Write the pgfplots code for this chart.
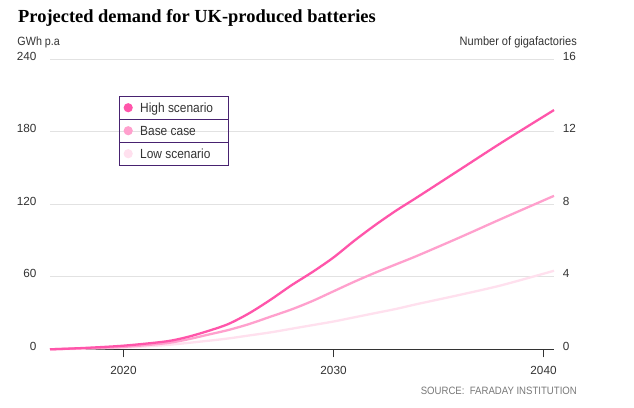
\documentclass[border=0pt]{standalone}
\usepackage{fontspec}
\setmainfont{Liberation Sans}
\newfontfamily\titlefont{Liberation Serif}
\newfontfamily\condfont[FakeStretch=0.9]{Liberation Sans}
\newfontfamily\numfont{Liberation Sans}
\usepackage{pgfplots}
\pgfplotsset{compat=1.18}
\definecolor{highc}{RGB}{255,85,170}
\definecolor{basec}{RGB}{255,160,205}
\definecolor{lowc}{RGB}{255,224,238}
\definecolor{legc}{RGB}{72,34,112}
\definecolor{gridc}{RGB}{226,226,226}
\definecolor{txtc}{RGB}{51,51,51}
\definecolor{srcc}{RGB}{120,120,120}

\pgfplotstableread{
year val
2016.5 0
2018 0.5
2020 1.5
2022 3.5
2024 7
2025 9
2026 11.5
2027 14
2028 17
2029 20
2030 23
2031 26.5
2032 30
2033 33.5
2034 37.5
2036 45
2038 53
2040.5 65
}\lowtab
\pgfplotstableread{
year val
2016.5 0
2018 0.8
2020 2
2022 5
2023 8
2024 12
2025 16
2026 21
2027 27
2028 33
2029 40
2030 48
2031 56
2032 63.5
2033 70.5
2034 77.5
2036 92.5
2038 108
2040.5 127
}\basetab
\pgfplotstableread{
year val
2016.5 0
2018 1
2020 3
2022 6.5
2023 10
2024 15
2025 21
2026 30
2027 41
2028 53
2029 64
2030 76
2031 90
2032 103
2033 115
2034 126
2036 148.5
2038 171
2040.5 198
}\hightab

\pgfplotsset{
  myaxis/.style={scale only axis, width=504bp, height=290bp,
    at={(50bp,57.7bp)}, anchor=south west,
    xmin=2016.5, xmax=2040.5, ymin=0, ymax=240, clip=false},
  myline/.style={line width=2.3pt, smooth, tension=0.5},
}
\newcommand{\legtext}[1]{\makebox[88bp][l]{\rule[-11.5bp]{0pt}{23bp}#1}}

\begin{document}
\begin{tikzpicture}[x=1bp,y=1bp]
\path[use as bounding box, fill=white] (0,0) rectangle (634,407);

\node[anchor=base west, inner sep=0, font=\titlefont\bfseries\fontsize{18.5}{21}\selectfont, text=black]
  at (18,385) {Projected demand for UK-produced batteries};
\node[anchor=base west, inner sep=0, font=\condfont\fontsize{12}{14}\selectfont, text=txtc]
  at (17.3,362) {GWh p.a};
\node[anchor=base east, inner sep=0, font=\condfont\fontsize{12.3}{14}\selectfont, text=txtc]
  at (577,362) {Number of gigafactories};
\node[anchor=base east, inner sep=0, font=\condfont\fontsize{10.7}{12}\selectfont, text=srcc]
  at (577,13) {SOURCE:\ \ FARADAY INSTITUTION};

% grid + left labels
\begin{axis}[myaxis, axis x line=none, axis y line*=left,
  y axis line style={draw=none}, ytick style={draw=none},
  ymajorgrids, grid style={gridc, line width=0.8pt},
  ytick={0,60,120,180,240}, xtick=\empty,
  yticklabel style={font=\numfont\fontsize{11.8}{13}\selectfont, text=txtc, inner sep=0pt, anchor=base east, xshift=-13.3bp, yshift=-1bp},
  /pgf/number format/assume math mode=true]
\addplot[draw=none, forget plot] coordinates {(2017,0)};
\end{axis}

% right axis labels
\begin{axis}[myaxis, ymax=16, axis x line=none, axis y line*=right,
  y axis line style={draw=none}, ytick style={draw=none},
  ytick={0,4,8,12,16}, xtick=\empty,
  yticklabel style={font=\numfont\fontsize{11.8}{13}\selectfont, text=txtc, inner sep=0pt, anchor=base west, xshift=8.7bp, yshift=-1bp},
  /pgf/number format/assume math mode=true]
\addplot[draw=none, forget plot] coordinates {(2017,0)};
\end{axis}

% data + x axis + legend
\begin{axis}[myaxis,
  axis x line=bottom, axis y line=none,
  x axis line style={draw=txtc, line width=0.8pt, -},
  xtick={2020,2030,2040},
  xtick style={draw=txtc, line width=0.8pt},
  tick align=outside, major tick length=8bp,
  ticklabel style={font=\numfont\fontsize{11.8}{13}\selectfont, text=txtc, inner sep=0pt},
  /pgf/number format/assume math mode=true,
  /pgf/number format/set thousands separator={},
  xticklabel style={anchor=base, yshift=-17bp},
  legend style={at={(0.1369,0.8734)}, anchor=north west,
    draw=none, fill=none, inner sep=0pt,
    row sep=0pt, column sep=0pt,
    nodes={inner sep=0pt, text=txtc},
    font=\condfont\fontsize{13.3}{15}\selectfont},
  legend image code/.code={\path[draw=none, fill=none] (0bp,-11.5bp) rectangle (21bp,11.5bp);
      \draw[legc, line width=0.9pt, fill=none, overlay] (0bp,-11.5bp) rectangle (109bp,11.5bp);
      \fill[#1, draw=none] (9bp,0bp) circle (4.6bp);},
]
\addplot[lowc, myline, forget plot] table[x=year,y=val] {\lowtab};
\addplot[basec, myline, forget plot] table[x=year,y=val] {\basetab};
\addplot[highc, myline, forget plot] table[x=year,y=val] {\hightab};
\addlegendimage{highc}
\addlegendentry{\legtext{High scenario}}
\addlegendimage{basec}
\addlegendentry{\legtext{Base case}}
\addlegendimage{lowc}
\addlegendentry{\legtext{Low scenario}}
\end{axis}
\end{tikzpicture}
\end{document}
